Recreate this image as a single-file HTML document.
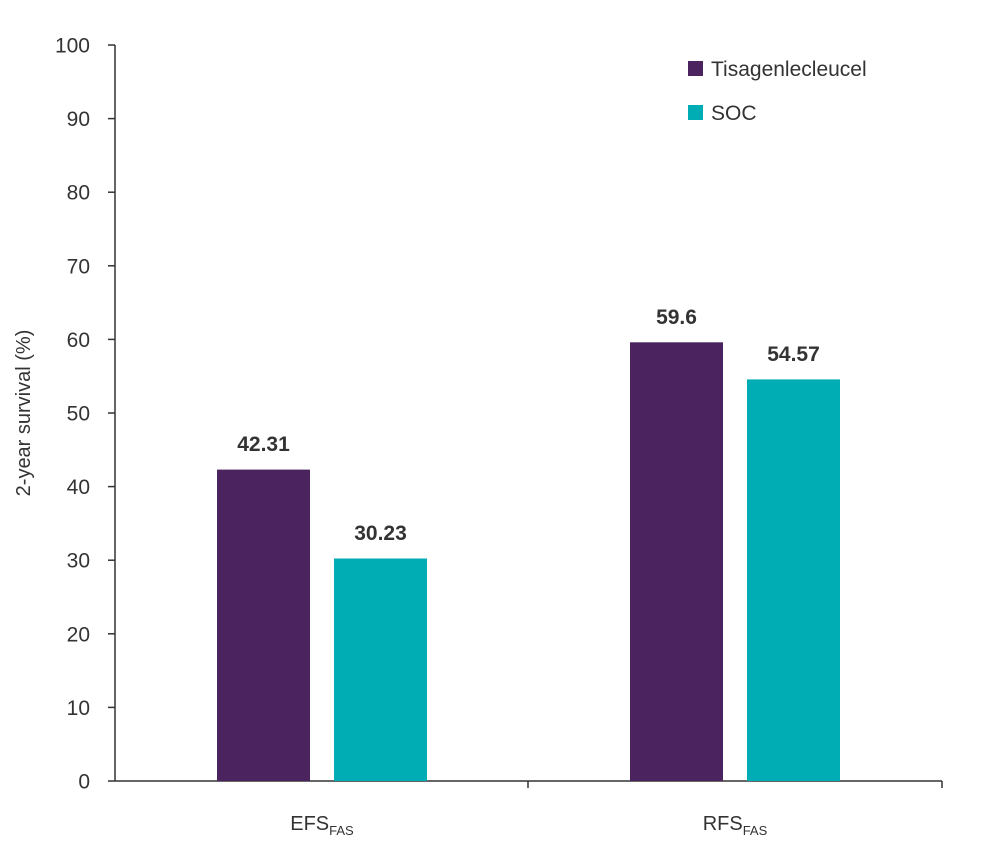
<!DOCTYPE html>
<html><head><meta charset="utf-8"><style>
body{margin:0;background:#fff}
svg text{font-family:"Liberation Sans",sans-serif;fill:#333}
</style></head><body>
<svg width="1000" height="855" viewBox="0 0 1000 855" xmlns="http://www.w3.org/2000/svg">
<g stroke="#333" stroke-width="1.5">
<line x1="115" y1="45" x2="115" y2="781"/>
<line x1="115" y1="781" x2="942" y2="781"/>
<line x1="108" y1="45" x2="115" y2="45"/>
<line x1="108" y1="118.6" x2="115" y2="118.6"/>
<line x1="108" y1="192.2" x2="115" y2="192.2"/>
<line x1="108" y1="265.8" x2="115" y2="265.8"/>
<line x1="108" y1="339.4" x2="115" y2="339.4"/>
<line x1="108" y1="413" x2="115" y2="413"/>
<line x1="108" y1="486.6" x2="115" y2="486.6"/>
<line x1="108" y1="560.2" x2="115" y2="560.2"/>
<line x1="108" y1="633.8" x2="115" y2="633.8"/>
<line x1="108" y1="707.4" x2="115" y2="707.4"/>
<line x1="108" y1="781" x2="115" y2="781"/>
<line x1="528" y1="781" x2="528" y2="788"/>
<line x1="942" y1="781" x2="942" y2="788"/>
</g>
<g font-size="21" text-anchor="end">
<text x="90" y="52.5">100</text>
<text x="90" y="126">90</text>
<text x="90" y="199.7">80</text>
<text x="90" y="273.3">70</text>
<text x="90" y="346.9">60</text>
<text x="90" y="420.5">50</text>
<text x="90" y="494">40</text>
<text x="90" y="567.7">30</text>
<text x="90" y="641.3">20</text>
<text x="90" y="714.9">10</text>
<text x="90" y="788.5">0</text>
</g>
<text x="30" y="413" font-size="20" text-anchor="middle" transform="rotate(-90 30 413)">2-year survival (%)</text>
<rect x="217" y="469.6" width="93" height="311.4" fill="#4a235f"/>
<rect x="334" y="558.5" width="93" height="222.5" fill="#00adb5"/>
<rect x="630" y="342.3" width="93" height="438.7" fill="#4a235f"/>
<rect x="747" y="379.4" width="93" height="401.6" fill="#00adb5"/>
<g font-size="21" font-weight="bold" text-anchor="middle">
<text x="263.5" y="451">42.31</text>
<text x="380.5" y="540">30.23</text>
<text x="676.5" y="324">59.6</text>
<text x="793.5" y="361">54.57</text>
</g>
<g font-size="20" text-anchor="middle">
<text x="322" y="830">EFS<tspan font-size="13" dy="5">FAS</tspan></text>
<text x="735" y="830">RFS<tspan font-size="13" dy="5">FAS</tspan></text>
</g>
<rect x="688" y="61" width="15" height="15" fill="#4a235f"/>
<rect x="688" y="105" width="15" height="15" fill="#00adb5"/>
<text x="711" y="76" font-size="21">Tisagenlecleucel</text>
<text x="711" y="120" font-size="21">SOC</text>
</svg>
</body></html>
